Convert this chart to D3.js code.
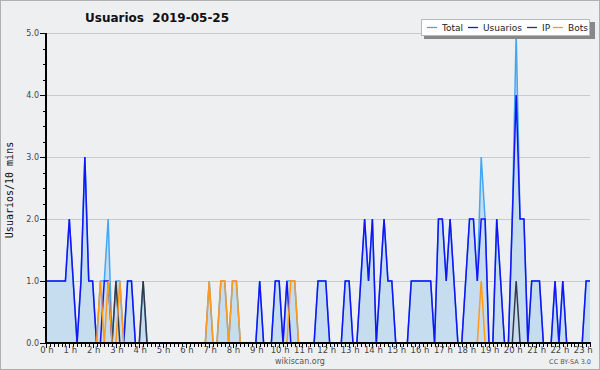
<!DOCTYPE html>
<html>
<head>
<meta charset="utf-8">
<script src="https://cdn.jsdelivr.net/npm/d3@7"></script>
<style>
  body { margin: 0; background: #ffffff; }
  svg { display: block; }
</style>
</head>
<body>
<svg id="chart"></svg>
<script>
// Values per 10 minutes (00:00 -> 23:20)
const usuarios = [
  1,1,1,1,1,1,2,1,0,1,
  3,1,1,0,0,1,1,0,0,0,
  0,1,1,0,0,0,0,0,0,0,
  0,0,0,0,0,0,0,0,0,0,
  0,0,0,0,0,0,0,0,0,0,
  0,0,0,0,0,1,0,0,0,1,
  1,0,1,0,0,0,0,0,0,0,
  1,1,1,0,0,0,0,1,1,0,
  0,1,2,1,2,0,1,2,1,1,
  0,0,0,0,1,1,1,1,1,1,
  0,2,2,1,2,1,0,0,1,2,
  2,1,2,2,0,0,2,1,0,0,
  2,4,2,2,0,1,1,1,0,0,
  0,1,0,1,0,0,0,0,0,1,
  1
];
const ip = [
  0,0,0,0,0,0,0,0,0,0,
  0,0,0,0,0,0,0,0,1,0,
  0,0,0,0,0,1,0,0,0,0,
  0,0,0,0,0,0,0,0,0,0,
  0,0,0,0,0,0,0,0,0,0,
  0,0,0,0,0,0,0,0,0,0,
  0,0,0,0,0,0,0,0,0,0,
  0,0,0,0,0,0,0,0,0,0,
  0,0,0,0,0,0,0,0,0,0,
  0,0,0,0,0,0,0,0,0,0,
  0,0,0,0,0,0,0,0,0,0,
  0,0,0,0,0,0,0,0,0,0,
  0,1,0,0,0,0,0,0,0,0,
  0,0,0,0,0,0,0,0,0,0,
  0
];
const bots = [
  0,0,0,0,0,0,0,0,0,0,
  0,0,0,0,1,0,1,0,0,1,
  0,0,0,0,0,0,0,0,0,0,
  0,0,0,0,0,0,0,0,0,0,
  0,0,1,0,0,1,1,0,1,1,
  0,0,0,0,0,0,0,0,0,0,
  0,0,0,1,1,0,0,0,0,0,
  0,0,0,0,0,0,0,0,0,0,
  0,0,0,0,0,0,0,0,0,0,
  0,0,0,0,0,0,0,0,0,0,
  0,0,0,0,0,0,0,0,0,0,
  0,0,1,0,0,0,0,0,0,0,
  0,0,0,0,0,0,0,0,0,0,
  0,0,0,0,0,0,0,0,0,0,
  0
];
const total = [
  1,1,1,1,1,1,2,1,0,1,
  3,1,1,0,1,1,2,0,1,1,
  0,1,1,0,0,1,0,0,0,0,
  0,0,0,0,0,0,0,0,0,0,
  0,0,1,0,0,1,1,0,1,1,
  0,0,0,0,0,1,0,0,0,1,
  1,0,1,1,1,0,0,0,0,0,
  1,1,1,0,0,0,0,1,1,0,
  0,1,2,1,2,0,1,2,1,1,
  0,0,0,0,1,1,1,1,1,1,
  0,2,2,1,2,1,0,0,1,2,
  2,1,3,2,0,0,2,1,0,0,
  2,5,2,2,0,1,1,1,0,0,
  0,1,0,1,0,0,0,0,0,1,
  1
];
const hours = d3.range(24);
const hourLabels = hours.map(h => h + " h");
const yTicks = [0, 1, 2, 3, 4, 5];
const yMinorTicks = d3.range(0, 5.01, 0.25);
const seriesNames = ["Total", "Usuarios", "IP", "Bots"];
const seriesColors = ["#45a6f2", "#1414f5", "#34384a", "#ff9a1a"];

const W = 600, H = 370;
const svg = d3.select("#chart").attr("width", W).attr("height", H);
const font = "'DejaVu Sans', sans-serif";

// background + border
svg.append("rect").attr("x", 0.5).attr("y", 0.5).attr("width", W - 1).attr("height", H - 1)
  .attr("fill", "#eeeff1").attr("stroke", "#b0b0b0");

let x = d3.scaleLinear().domain([0, total.length - 1]).range([46, 590]);
let y = d3.scaleLinear().domain([0, 5]).range([343, 33]);

// grid
svg.append("g").selectAll("line")
  .data(yTicks.filter(d => d > 0))
  .enter().append("line")
  .attr("x1", x(0)).attr("x2", x(total.length - 1))
  .attr("y1", d => y(d) + 0.5).attr("y2", d => y(d) + 0.5)
  .attr("stroke", "#c9cacc").attr("stroke-width", 1);

// area under total
let area = d3.area().x((d, i) => x(i)).y0(y(0)).y1(d => y(d));
svg.append("path").datum(total)
  .attr("d", area)
  .attr("fill", "#c6dcef");

// lines
const allSeries = [total, usuarios, ip, bots];
let line = d3.line().x((d, i) => x(i)).y(d => y(d));
allSeries.forEach((s, k) => {
  svg.append("path").datum(s)
    .attr("d", line)
    .attr("fill", "none")
    .attr("stroke", seriesColors[k])
    .attr("stroke-width", 1.5)
    .attr("stroke-linejoin", "miter");
});

// y axis (drawn over the series)
svg.append("line").attr("x1", 46).attr("x2", 46).attr("y1", 33).attr("y2", 344)
  .attr("stroke", "#000").attr("stroke-width", 2);
svg.append("g").selectAll("line")
  .data(yMinorTicks)
  .enter().append("line")
  .attr("x1", d => (d % 1 === 0) ? 40 : 43).attr("x2", 46)
  .attr("y1", d => Math.round(y(d)) + 0.5).attr("y2", d => Math.round(y(d)) + 0.5)
  .attr("stroke", "#000");
svg.append("g").selectAll("text")
  .data(yTicks)
  .enter().append("text")
  .attr("x", 39).attr("y", d => y(d) + 3)
  .attr("text-anchor", "end")
  .attr("font-family", font).attr("font-size", "8px").attr("fill", "#444")
  .text(d => d.toFixed(1));

// x axis
svg.append("line").attr("x1", 45).attr("x2", 591).attr("y1", 343).attr("y2", 343)
  .attr("stroke", "#000").attr("stroke-width", 2.2);
svg.append("g").selectAll("line")
  .data(d3.range(total.length))
  .enter().append("line")
  .attr("x1", d => Math.round(x(d)) + 0.5).attr("x2", d => Math.round(x(d)) + 0.5)
  .attr("y1", 343).attr("y2", d => d % 6 === 0 ? 348 : 347)
  .attr("stroke", "#000");
svg.append("g").selectAll("text")
  .data(hours)
  .enter().append("text")
  .attr("x", d => x(d * 6) + 1).attr("y", 353)
  .attr("text-anchor", "middle")
  .attr("font-family", font).attr("font-size", "8.5px").attr("fill", "#444")
  .text((d, i) => hourLabels[i]);

// y title
svg.append("text")
  .attr("transform", "translate(13,190) rotate(-90)")
  .attr("text-anchor", "middle")
  .attr("font-family", "'DejaVu Sans Mono', monospace").attr("font-size", "10px").attr("fill", "#111")
  .text("Usuarios/10 mins");

// title
svg.append("text")
  .attr("x", 85).attr("y", 22)
  .attr("xml:space", "preserve").style("white-space", "pre")
  .attr("font-family", font).attr("font-weight", "bold").attr("font-size", "12px").attr("fill", "#111")
  .text("Usuarios  2019-05-25");

// legend
let lg = svg.append("g");
lg.append("rect").attr("x", 424).attr("y", 22).attr("width", 171).attr("height", 17).attr("fill", "#888");
lg.append("rect").attr("x", 421.5).attr("y", 19.5).attr("width", 168).attr("height", 16)
  .attr("fill", "#fff").attr("stroke", "#b8b8b8");
const legendX = [427, 468, 527, 553];
seriesNames.forEach((n, k) => {
  lg.append("line").attr("x1", legendX[k]).attr("x2", legendX[k] + 10)
    .attr("y1", 27.5).attr("y2", 27.5).attr("stroke", seriesColors[k]).attr("stroke-width", 1.3);
  lg.append("text").attr("x", legendX[k] + 15).attr("y", 31)
    .attr("font-family", font).attr("font-size", "9px").attr("fill", "#222").text(n);
});

// footer
svg.append("text").attr("x", 300).attr("y", 364).attr("text-anchor", "middle")
  .attr("font-family", font).attr("font-size", "8px").attr("fill", "#555").text("wikiscan.org");
svg.append("text").attr("x", 591).attr("y", 364).attr("text-anchor", "end")
  .attr("font-family", font).attr("font-size", "6.5px").attr("fill", "#555").text("CC BY-SA 3.0");
</script>
</body>
</html>
